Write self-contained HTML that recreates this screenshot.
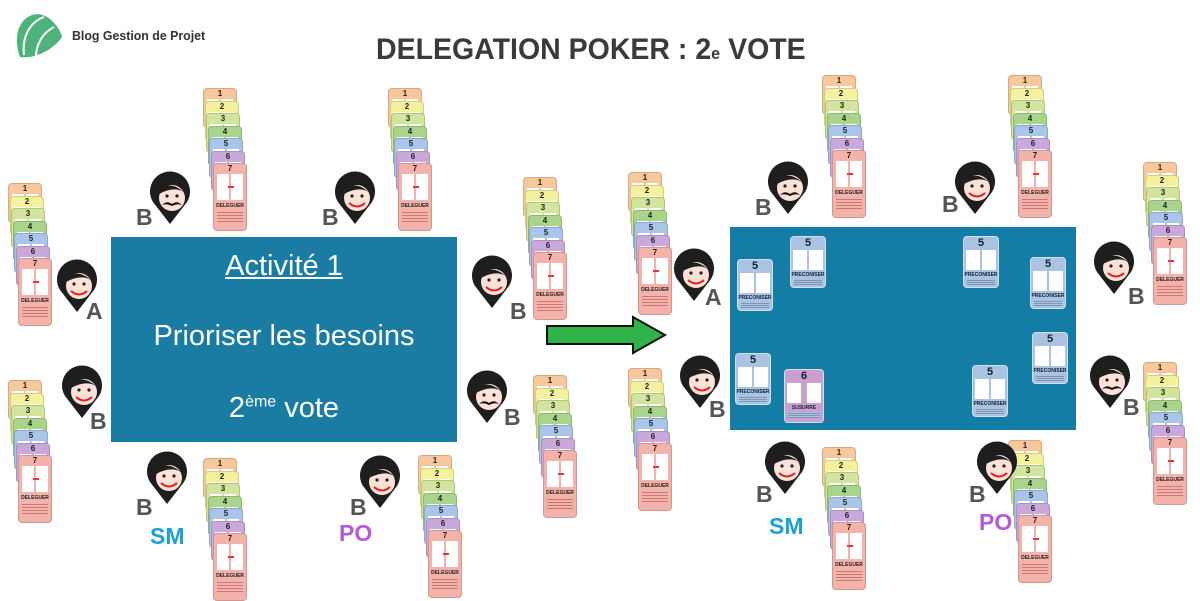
<!DOCTYPE html>
<html><head><meta charset="utf-8">
<style>
body{margin:0;width:1200px;height:600px;background:#fff;position:relative;overflow:hidden;font-family:"Liberation Sans",sans-serif}
.abs{position:absolute}
.card{position:absolute;width:34px;border-radius:4px;border:1px solid rgba(0,0,0,0.15);box-sizing:border-box;text-align:center;font-weight:bold;font-size:8px;color:#222;line-height:9px}
.card .p{position:absolute;top:10px;left:3px;width:12px;height:3px;background:#fff}
.card .q{position:absolute;top:10px;right:3px;width:12px;height:3px;background:#fff}
.lt{position:absolute;font-weight:bold;font-size:23px;color:#555}
.mini{position:absolute;width:36px;height:52px;background:#aac3e2;border:1px solid #cfe0f2;border-radius:4px;box-sizing:border-box}
.mini b{display:block;text-align:center;font-size:11px;color:#123;line-height:12px}
.mini .w1,.mini .w2{position:absolute;top:13px;width:14px;height:20px;background:#fff}
.mini .w1{left:2px}.mini .w2{right:2px}
.mini .t{position:absolute;top:35px;left:0;right:0;text-align:center;font-size:5px;font-weight:bold;color:#123}
.mini .ln{position:absolute;top:42px;left:3px;right:3px;height:6px;background:repeating-linear-gradient(#aac3e2 0 1px,#7f95b5 1px 2px)}
</style></head><body>
<svg class="abs" style="left:14px;top:11px" width="50" height="52" viewBox="0 0 50 52">
<path d="M6 46 C0 30 2 10 18 4 C32 -1 46 16 48 26 C40 38 22 48 6 46Z" fill="#4db37a"/>
<path d="M10 44 C8 28 14 12 30 6" stroke="#fff" stroke-width="2" fill="none"/>
<path d="M22 46 C22 34 28 22 40 16" stroke="#fff" stroke-width="2" fill="none"/>
</svg>
<div class="abs" style="left:72px;top:28px;font-size:13px;font-weight:bold;color:#333;transform:scaleX(0.95);transform-origin:left">Blog Gestion de Projet</div>
<div class="abs" style="left:376px;top:33px;font-size:30px;font-weight:bold;color:#3a3a3a;white-space:nowrap;transform:scaleX(0.95);transform-origin:left">DELEGATION POKER : 2<span style="font-size:17px">e</span> VOTE</div>

<div class="abs" style="left:111px;top:237px;width:346px;height:205px;background:#1b7ca3;color:#fff;text-align:center">
<div style="position:absolute;top:13px;width:100%;font-size:29px;text-decoration:underline">Activité 1</div>
<div style="position:absolute;top:83px;width:100%;font-size:29px">Prioriser les besoins</div>
<div style="position:absolute;top:155px;width:100%;font-size:29px">2<sup style="font-size:16px">ème</sup> vote</div>
</div>
<svg class="abs" style="left:545px;top:315px" width="124" height="42"><path d="M2 11 H88 V2 L120 20 L88 38 V29 H2Z" fill="#2fb34a" stroke="#111" stroke-width="2"/></svg>
<div class="abs" style="left:730px;top:227px;width:346px;height:203px;background:#137da6"></div>
<div id="root"></div>
<script>
var cols=['#f8c89c','#f4f29c','#d3e59c','#a9d58b','#a9c5e9','#cba8dc','#f3b3ab'];
var stacks=[[8,183],[8,380],[203,88],[388,88],[523,177],[533,375],[203,458],[418,455],[628,172],[628,368],[822,75],[1008,75],[1143,162],[1143,362],[822,447],[1008,440]];
var h='';
stacks.forEach(function(s){
 for(var i=0;i<7;i++){
  var x=s[0]+Math.round(i*1.6),y=s[1]+i*12.5,ht=i<6?40:68;
  h+='<div class="card" style="left:'+x+'px;top:'+y+'px;height:'+ht+'px;background:'+cols[i]+'">'+(i+1)+'<div class="p"></div><div class="q"></div>'+
  (i==6?'<div style="position:absolute;top:10px;left:3px;width:12px;height:26px;background:#fff"></div><div style="position:absolute;top:10px;right:3px;width:12px;height:26px;background:#fff"></div><div style="position:absolute;top:22px;left:14px;width:6px;height:2px;background:#e33"></div><div style="position:absolute;top:38px;width:100%;font-size:5px">DELEGUER</div><div style="position:absolute;top:46px;left:3px;right:3px;height:14px;background:repeating-linear-gradient(#f3b3ab 0 2px,#c77 2px 3px)"></div>':'')+'</div>';
 }
});
function head(x,y,must){
 return '<svg class="abs" style="left:'+x+'px;top:'+y+'px" width="44" height="58" viewBox="0 0 44 58"><path d="M22 56 L5 34 A20 20 0 1 1 39 34Z" fill="#1e1e1e"/><ellipse cx="24" cy="30" rx="13" ry="13" fill="#fbe1d6"/><path d="M11 22 Q22 12 36 24 Q26 18 11 26Z" fill="#1e1e1e"/><circle cx="19" cy="28" r="1.6" fill="#222"/><circle cx="29" cy="28" r="1.6" fill="#222"/>'+
 (must?'<path d="M14 37 Q19 32 24 36 Q29 32 34 37 Q29 35 24 38 Q19 35 14 37Z" fill="#111"/>':'<path d="M16 35 Q24 42 32 35" stroke="#e02020" stroke-width="2" fill="none"/>')+'</svg>';
}
var heads=[[55,256,0],[60,362,0],[148,168,1],[333,168,0],[470,252,0],[465,367,1],[145,448,0],[358,452,0],[672,245,0],[678,352,0],[766,158,1],[953,158,0],[1092,238,0],[1088,352,1],[763,438,0],[975,438,0]];
heads.forEach(function(a){h+=head(a[0],a[1],a[2]);});
var L=[['A',86,298],['B',90,408],['B',136,204],['B',322,204],['B',510,298],['B',504,404],['B',136,494],['B',350,494],['A',705,284],['B',709,396],['B',755,194],['B',942,191],['B',1128,283],['B',1123,394],['B',756,481],['B',969,481]];
L.forEach(function(a){h+='<div class="lt" style="left:'+a[1]+'px;top:'+a[2]+'px">'+a[0]+'</div>';});
h+='<div class="lt" style="left:150px;top:523px;color:#1aa0dc">SM</div><div class="lt" style="left:339px;top:520px;color:#b45ad8">PO</div><div class="lt" style="left:769px;top:513px;color:#1aa0dc">SM</div><div class="lt" style="left:979px;top:509px;color:#b45ad8">PO</div>';
var M=[[737,259,5],[790,236,5],[963,236,5],[1030,257,5],[1032,332,5],[972,365,5],[735,353,5],[784,369,6]];
M.forEach(function(m){h+='<div class="mini" style="left:'+m[0]+'px;top:'+m[1]+'px;'+(m[2]==6?'background:#c9a0cf;width:40px;height:54px':'')+'"><b>'+m[2]+'</b><div class="w1"></div><div class="w2"></div><div class="t">'+(m[2]==6?'SUSURRE':'PRECONISER')+'</div><div class="ln"></div></div>';});
document.getElementById('root').innerHTML=h;
</script>
</body></html>
